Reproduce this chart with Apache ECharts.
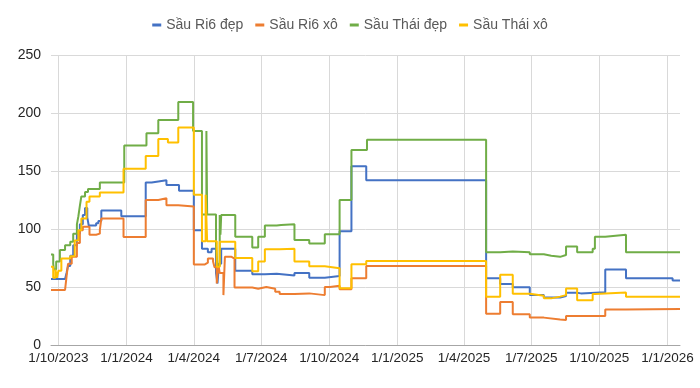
<!DOCTYPE html>
<html>
<head>
<meta charset="utf-8">
<script src="https://cdn.jsdelivr.net/npm/echarts@6/dist/echarts.min.js"></script>
<style>
html,body{margin:0;padding:0;background:#fff;}
#chart{width:700px;height:388px;}
</style>
</head>
<body>
<div id="chart"></div>
<script>
const seriesNames = ['Sầu Ri6 đẹp', 'Sầu Ri6 xô', 'Sầu Thái đẹp', 'Sầu Thái xô'];
const xTickDates = ['2023-10-01','2024-01-01','2024-04-01','2024-07-01','2024-10-01','2025-01-01','2025-04-01','2025-07-01','2025-10-01','2026-01-01'];
const xStart = '2023-09-21';
const xEnd = '2026-01-18';
const yTicks = [0, 50, 100, 150, 200, 250];

const riDep = [
  ['2023-09-21',57],['2023-10-10',57],['2023-10-12',62],['2023-10-14',68],['2023-10-17',77],
  ['2023-10-21',86],['2023-10-26',96],['2023-10-30',104],['2023-11-03',112],['2023-11-06',118],
  ['2023-11-09',110],['2023-11-11',103],['2023-11-21',105],['2023-11-24',107],['2023-11-28',116],
  ['2023-12-25',111],['2024-01-27',140],['2024-02-04',141],['2024-02-13',142],['2024-02-24',138],
  ['2024-03-12',133],['2024-04-01',99],['2024-04-12',83],['2024-04-20',80],['2024-04-25',83],
  ['2024-05-01',62],['2024-05-03',53],['2024-05-05',70],['2024-05-08',83],['2024-05-27',64],
  ['2024-06-19',61],['2024-07-06',61.5],['2024-07-22',60],['2024-08-15',62],['2024-09-04',58],
  ['2024-09-25',59.5],['2024-10-15',98],['2024-10-31',154],['2024-11-20',142],['2025-05-01',57.5],
  ['2025-05-20',52.5],['2025-06-06',49.7],['2025-06-29',43],['2025-07-18',41],['2025-08-09',42.3],
  ['2025-08-17',45],['2025-09-01',44.5],['2025-09-06',45.5],['2025-10-09',65],['2025-11-06',57.5],
  ['2026-01-08',55.5],['2026-01-18',55.5]
];
const riXo = [
  ['2023-09-21',47.5],['2023-10-10',47.5],['2023-10-12',59],['2023-10-14',70],['2023-10-19',76],
  ['2023-10-26',88],['2023-10-30',99],['2023-11-03',102],['2023-11-12',95],['2023-11-21',96],
  ['2023-11-26',99],['2023-11-28',109],['2023-12-28',93],['2024-01-27',125],['2024-02-13',126.5],
  ['2024-02-24',120.5],['2024-03-11',119.5],['2024-04-01',69.5],['2024-04-16',71],['2024-04-20',74.5],
  ['2024-04-27',72],['2024-04-29',67],['2024-05-02',53],['2024-05-04',70],['2024-05-06',62],
  ['2024-05-11',43],['2024-05-13',76],['2024-05-22',74.5],['2024-05-26',49.5],['2024-06-19',48.5],
  ['2024-06-27',50],['2024-07-08',48.5],['2024-07-20',46],['2024-07-26',44],['2024-08-15',44.5],
  ['2024-09-04',43],['2024-09-25',50],['2024-10-02',51],['2024-10-15',48],['2024-10-31',57.5],
  ['2024-11-20',68],['2025-05-01',27],['2025-05-20',37],['2025-06-06',26.5],['2025-06-29',23.6],
  ['2025-07-18',22],['2025-08-09',21.5],['2025-08-17',25],['2025-09-26',25],['2025-10-09',30.5],
  ['2025-11-06',31],['2026-01-18',31]
];
const thaiDep = [
  ['2023-09-21',78],['2023-09-24',70],['2023-09-25',65],['2023-09-28',72],['2023-10-03',82],
  ['2023-10-10',86],['2023-10-17',89],['2023-10-21',96],['2023-10-26',104],['2023-10-28',111],
  ['2023-10-30',120],['2023-11-01',128],['2023-11-06',132],['2023-11-10',134.5],['2023-11-26',140],
  ['2023-12-29',172],['2024-01-28',182.5],['2024-02-13',194],['2024-03-11',209.5],['2024-03-31',184.5],
  ['2024-04-12',112.5],['2024-04-18',184.5],['2024-04-19',112.5],['2024-05-01',85],['2024-05-03',68],
  ['2024-05-06',112],['2024-05-07',95],['2024-05-08',112],['2024-05-27',93.4],['2024-06-19',84],
  ['2024-06-27',93.4],['2024-07-06',103],['2024-07-22',103.5],['2024-07-28',104],['2024-08-15',90.5],
  ['2024-09-04',87.6],['2024-09-25',95.4],['2024-10-15',125],['2024-10-31',168],['2024-11-21',177],
  ['2025-05-01',80],['2025-05-20',80.7],['2025-06-06',80],['2025-06-29',78.2],['2025-07-18',77],
  ['2025-07-28',76],['2025-08-09',77.6],['2025-08-17',85],['2025-09-01',80],['2025-09-22',83],
  ['2025-09-25',93.4],['2025-10-09',95],['2025-11-06',80],['2026-01-18',80]
];
const thaiXo = [
  ['2023-09-21',67.5],['2023-09-24',58],['2023-09-27',65],['2023-09-29',58],['2023-10-01',64],
  ['2023-10-05',74.5],['2023-10-17',76.5],['2023-10-23',90],['2023-10-28',99],['2023-11-01',109],
  ['2023-11-08',123.5],['2023-11-12',128],['2023-11-26',131.5],['2023-12-28',152],['2024-01-27',163],
  ['2024-02-13',177.5],['2024-02-26',174.5],['2024-03-11',187.5],['2024-04-01',129.5],['2024-04-12',89.5],
  ['2024-04-17',129.5],['2024-04-19',89.5],['2024-05-02',67.5],['2024-05-06',89],['2024-05-27',75],
  ['2024-06-19',63.5],['2024-06-27',72],['2024-07-06',82.5],['2024-07-26',83],['2024-08-15',72],
  ['2024-09-04',67.8],['2024-09-25',66.1],['2024-10-15',49],['2024-10-31',69.7],['2024-11-20',72.5],
  ['2025-05-01',41.7],['2025-05-20',60.6],['2025-06-06',44.2],['2025-06-29',42.5],['2025-07-18',40.2],
  ['2025-07-28',41.7],['2025-08-09',43],['2025-08-17',48.6],['2025-09-01',38.5],['2025-09-22',44],
  ['2025-09-25',45.3],['2025-11-06',41.7],['2026-01-18',41.7]
];
const seriesColors = ['#4472C4', '#ED7D31', '#70AD47', '#FFC000'];

function ts(s) { const p = s.split('-'); return Date.UTC(+p[0], +p[1]-1, +p[2]); }
function toData(arr) { return arr.map(d => [ts(d[0]), d[1]]); }
const allData = [riDep, riXo, thaiDep, thaiXo];
const tickTs = xTickDates.map(ts);
const FONT = 'Liberation Sans';

const chart = echarts.init(document.getElementById('chart'), null, {renderer: 'canvas'});
chart.setOption({
  animation: false,
  textStyle: {fontFamily: FONT},
  legend: {
    top: 13, left: 'center',
    icon: 'rect', itemWidth: 9, itemHeight: 3, itemGap: 12,
    textStyle: {fontFamily: FONT, fontSize: 14, color: '#595959'},
    data: seriesNames
  },
  grid: {left: 51, right: 20, top: 55, bottom: 43, containLabel: false},
  xAxis: {
    type: 'value',
    min: ts(xStart), max: ts(xEnd),
    axisLine: {show: true, lineStyle: {color: '#a6a6a6', width: 1}},
    axisTick: {show: false, customValues: tickTs},
    axisLabel: {
      customValues: tickTs,
      showMinLabel: true, showMaxLabel: true,
      margin: 6,
      color: '#262626', fontFamily: FONT, fontSize: 13.5,
      formatter: function (v) { const d = new Date(v); return d.getUTCDate() + '/' + (d.getUTCMonth()+1) + '/' + d.getUTCFullYear(); }
    },
    splitLine: {show: true, lineStyle: {color: '#d9d9d9', width: 1}}
  },
  yAxis: {
    type: 'value', min: yTicks[0], max: yTicks[yTicks.length-1], interval: 50,
    axisLine: {show: false}, axisTick: {show: false},
    axisLabel: {color: '#262626', fontFamily: FONT, fontSize: 14, margin: 10},
    splitLine: {lineStyle: {color: '#d9d9d9', width: 1}}
  },
  series: allData.map((arr, i) => ({
    name: seriesNames[i], type: 'line', step: 'end',
    data: toData(arr), showSymbol: false, symbol: 'none',
    lineStyle: {color: seriesColors[i], width: 2},
    itemStyle: {color: seriesColors[i]}
  }))
});
</script>
</body>
</html>
